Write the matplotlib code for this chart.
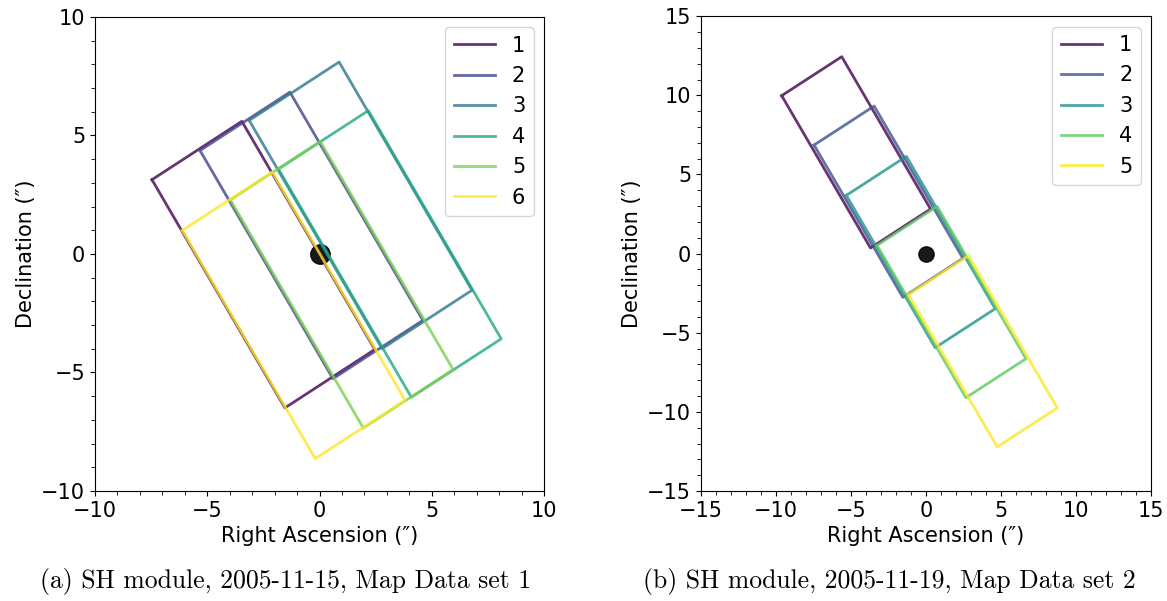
import numpy as np
import matplotlib
matplotlib.use("Agg")
import matplotlib.pyplot as plt
from matplotlib.ticker import MultipleLocator

# slit geometry (arcsec) and long-axis angle from the x axis (deg)
slit_width = 4.7
slit_length = 11.3
slit_angle = -58.4

# map 1: slit centres (RA, Dec offsets)
map1_ra = [-2.50, -0.36, 1.83, 3.13, 0.99, -1.15]
map1_dec = [-0.45, 0.78, 2.05, 0.00, -1.30, -2.59]
map1_labels = ["1", "2", "3", "4", "5", "6"]

# map 2: slit centres
map2_ra = [-4.66, -2.50, -0.35, 1.70, 3.79]
map2_dec = [6.40, 3.28, 0.10, -3.06, -6.17]
map2_labels = ["1", "2", "3", "4", "5"]

captions = ["(a) SH module, 2005-11-15, Map Data set 1",
            "(b) SH module, 2005-11-19, Map Data set 2"]

plt.rcParams['font.size'] = 15
plt.rcParams['xtick.minor.size'] = 3
plt.rcParams['ytick.minor.size'] = 3


def slit_corners(x, y):
    th = np.radians(slit_angle)
    u = np.array([np.cos(th), np.sin(th)]) * slit_length / 2
    v = np.array([-np.sin(th), np.cos(th)]) * slit_width / 2
    c = np.array([x, y])
    pts = [c - u - v, c - u + v, c + u + v, c + u - v, c - u - v]
    pts = np.array(pts)
    return pts[:, 0], pts[:, 1]


def draw_map(ax, ras, decs, labels, lim, dot_size):
    cols = plt.cm.viridis(np.linspace(0, 1, len(ras)))
    ax.plot([0], [0], 'o', color='black', ms=dot_size, alpha=0.9, zorder=1)
    for ra, dec, lab, col in zip(ras, decs, labels, cols):
        xs, ys = slit_corners(ra, dec)
        ax.plot(xs, ys, color=col, lw=2, alpha=0.8, label=lab, zorder=2)
    ax.set_xlim(-lim, lim)
    ax.set_ylim(-lim, lim)
    ax.xaxis.set_major_locator(MultipleLocator(5))
    ax.yaxis.set_major_locator(MultipleLocator(5))
    ax.xaxis.set_minor_locator(MultipleLocator(1))
    ax.yaxis.set_minor_locator(MultipleLocator(1))
    ax.set_xlabel("Right Ascension (\u2033)")
    ax.set_ylabel("Declination (\u2033)")
    ax.legend(loc='upper right')


fig = plt.figure(figsize=(11.67, 6.01), dpi=100)
ax1 = fig.add_axes([0.0814, 0.183, 0.3848, 0.789])
ax2 = fig.add_axes([0.6007, 0.183, 0.3856, 0.790])

draw_map(ax1, map1_ra, map1_dec, map1_labels, 10, 14)
draw_map(ax2, map2_ra, map2_dec, map2_labels, 15, 11)

fig.text(0.245, 0.033, captions[0], ha='center', va='center',
         fontsize=18.5, family='cmr10')
fig.text(0.762, 0.033, captions[1], ha='center', va='center',
         fontsize=18.5, family='cmr10')

fig.savefig("out.png", dpi=100)
